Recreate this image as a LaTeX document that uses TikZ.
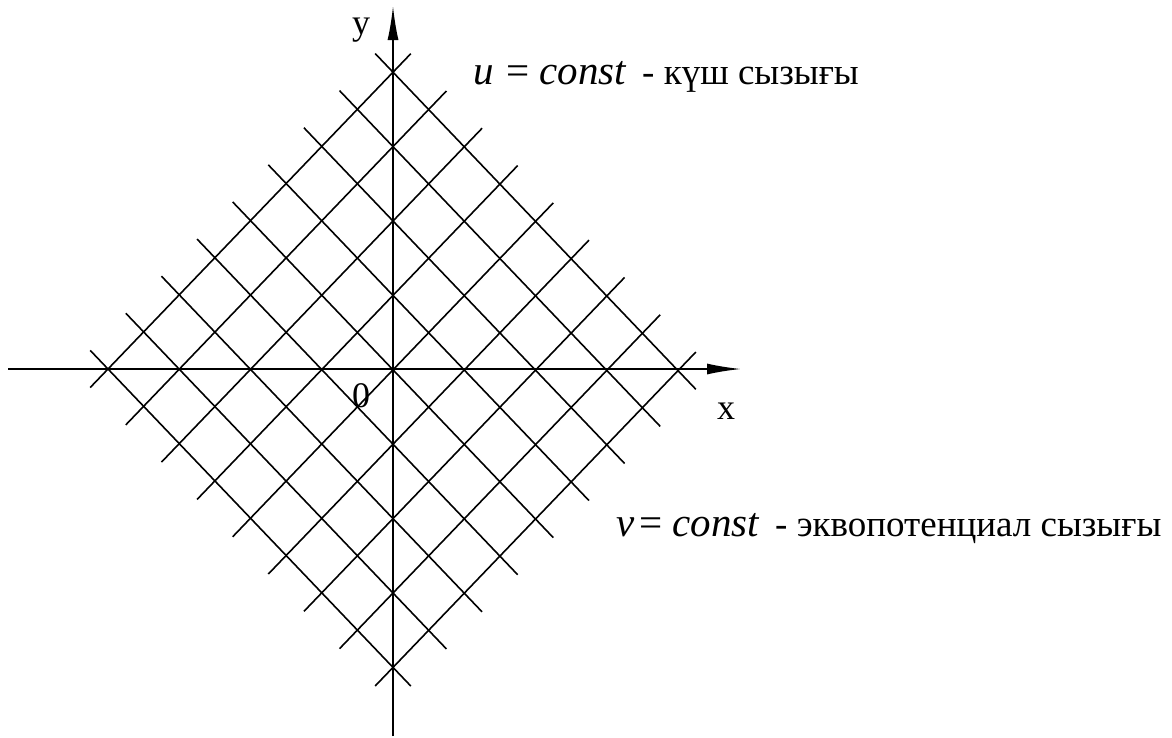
\documentclass[tikz,border=0pt]{standalone}
\usepackage{fontspec}
\setmainfont{Liberation Serif}
\newfontfamily\tms{Liberation Serif}
\usetikzlibrary{arrows.meta}
\begin{document}
\begin{tikzpicture}[x=1pt,y=-1pt,
  gridline/.style={line width=1.6pt},
  axis/.style={line width=1.7pt,-{Latex[length=34pt,width=11pt]}},
  lbl/.style={inner sep=0pt,font=\tms\fontsize{36}{42}\selectfont},
  eq/.style={inner sep=0pt,anchor=base west,font=\tms\fontsize{41}{48}\selectfont},
  txt/.style={inner sep=0pt,anchor=base west,font=\tms\fontsize{37}{44}\selectfont}]
\useasboundingbox (0,0) rectangle (1172,737);
% grid: node(i,j) = (108+35.625(i+j), 369-37.1 i+37.3 j)
\foreach \i in {0,...,8}{
  \draw[gridline] ({108+35.625*(\i-0.5)},{369-37.1*\i-37.3*0.5}) -- ({108+35.625*(\i+8.5)},{369-37.1*\i+37.3*8.5});
  \draw[gridline] ({108+35.625*(\i-0.5)},{369+37.1*0.5+37.3*\i}) -- ({108+35.625*(\i+8.5)},{369-37.1*8.5+37.3*\i});
}
% axes
\coordinate (xs) at (8,369);
\coordinate (xe) at (741,369);
\coordinate (ys) at (393,736);
\coordinate (ye) at (393,6);
\draw[axis] (xs) -- (xe);
\draw[axis] (ys) -- (ye);
\node[lbl] (ylab) at (361,30) {y};
\node[lbl] (xlab) at (726,411) {x};
\node[lbl] (olab) at (361,396) {0};
\node[eq] (ueq) at (473,84) {\textit{u}\hspace{0.3em}=\hspace{0.25em}\textit{const}};
\node[txt] (utxt) at (642,84) {- күш сызығы};
\node[eq] (veq) at (616,536) {\textit{v}\hspace{0.12em}=\hspace{0.25em}\textit{const}};
\node[txt] (vtxt) at (775,536) {- эквопотенциал сызығы};
\end{tikzpicture}
\end{document}
